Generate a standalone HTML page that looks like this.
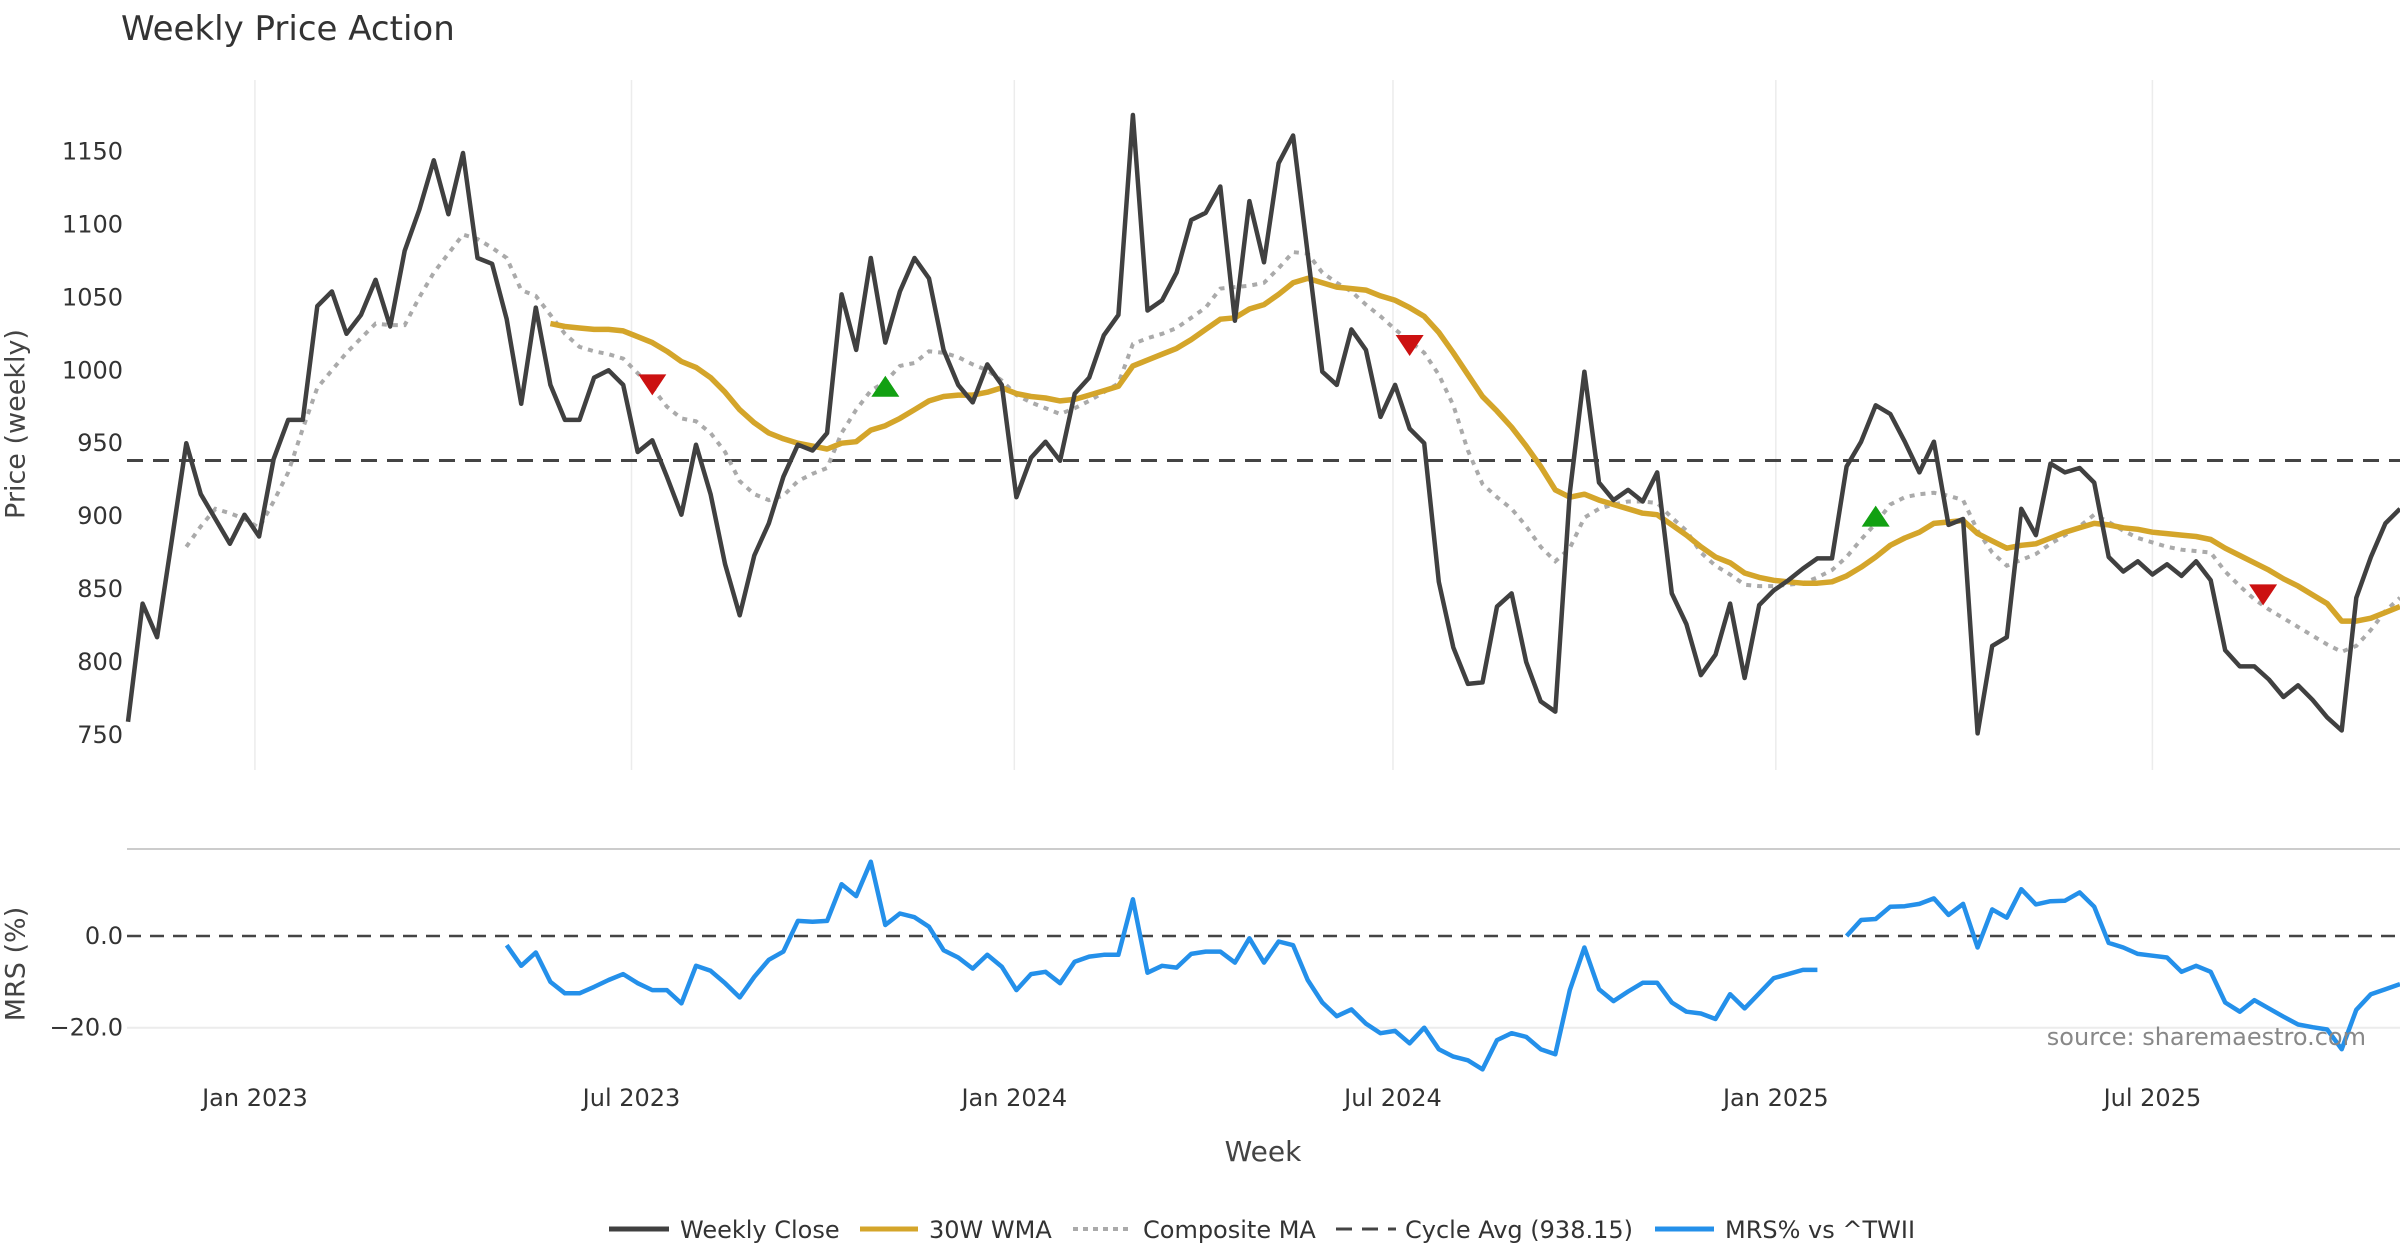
<!DOCTYPE html>
<html><head><meta charset="utf-8"><style>
html,body{margin:0;padding:0;background:#fff;}
svg{display:block;font-family:"DejaVu Sans","Liberation Sans",sans-serif;}
</style></head><body>
<svg id="chart" width="2400" height="1260" viewBox="0 0 2400 1260" xmlns="http://www.w3.org/2000/svg">
<text x="121" y="40" font-size="34" fill="#333">Weekly Price Action</text>
<g id="grid"></g><g id="series"></g><g id="axes"></g>
<text x="17" y="424" font-size="27" fill="#444" text-anchor="middle" transform="rotate(-90 17 424)" dominant-baseline="middle">Price (weekly)</text>
<text x="17" y="964" font-size="27" fill="#444" text-anchor="middle" transform="rotate(-90 17 964)" dominant-baseline="middle">MRS (%)</text>
<text x="1263" y="1161" font-size="28" fill="#444" text-anchor="middle">Week</text>
<text x="2366" y="1045" font-size="24" fill="#888" text-anchor="end">source: sharemaestro.com</text>
<g font-size="24" fill="#333">
<g><line x1="609" y1="1229" x2="669" y2="1229" stroke="#404040" stroke-width="5"/><text x="680" y="1238">Weekly Close</text></g>
<g><line x1="860" y1="1229" x2="918" y2="1229" stroke="#d4a52a" stroke-width="5"/><text x="929" y="1238">30W WMA</text></g>
<g><line x1="1073" y1="1229" x2="1133" y2="1229" stroke="#aaa" stroke-width="4" stroke-dasharray="5 5"/><text x="1143" y="1238">Composite MA</text></g>
<g><line x1="1336" y1="1229" x2="1396" y2="1229" stroke="#444" stroke-width="3" stroke-dasharray="16 10"/><text x="1405" y="1238">Cycle Avg (938.15)</text></g>
<g><line x1="1655" y1="1229" x2="1714" y2="1229" stroke="#2490ea" stroke-width="5"/><text x="1725" y="1238">MRS% vs ^TWII</text></g>
</g>
</svg>
<script>
const closeVals=[759,840,817,883,950,915,898,881,901,886,939,966,966,1044,1054,1025,1038,1062,1030,1082,1110,1144,1107,1149,1077,1073,1035,977,1043,990,966,966,995,1000,990,944,952,927,901,949,915,867,832,873,895,927,949,945,957,1052,1014,1077,1019,1054,1077,1063,1014,990,978,1004,990,913,940,951,938,984,995,1024,1038,1175,1041,1048,1067,1103,1108,1126,1034,1116,1074,1142,1161,1080,999,990,1028,1014,968,990,960,950,855,810,785,786,838,847,800,773,766,916,999,923,911,918,910,930,847,826,791,805,840,789,839,849,856,864,871,871,934,951,976,970,951,930,951,894,898,751,811,817,905,887,936,930,933,923,872,862,869,860,867,859,869,856,808,797,797,788,776,784,774,762,753,844,872,895,905];
const wmaVals=[null,null,null,null,null,null,null,null,null,null,null,null,null,null,null,null,null,null,null,null,null,null,null,null,null,null,null,null,null,1032,1030,1029,1028,1028,1027,1023,1019,1013,1006,1002,995,985,973,964,957,953,950,948,946,950,951,959,962,967,973,979,982,983,983,985,988,984,982,981,979,980,983,986,989,1003,1007,1011,1015,1021,1028,1035,1036,1042,1045,1052,1060,1063,1060,1057,1056,1055,1051,1048,1043,1037,1026,1012,997,982,972,961,948,934,918,913,915,911,908,905,902,901,894,887,879,872,868,861,858,856,855,854,854,855,859,865,872,880,885,889,895,896,897,888,883,878,880,881,885,889,892,895,894,892,891,889,888,887,886,884,878,873,868,863,857,852,846,840,828,828,830,834,838];
const compVals=[null,null,null,null,879,893,905,902,898,892,910,930,960,988,1000,1012,1022,1032,1031,1031,1050,1067,1080,1093,1090,1084,1077,1055,1051,1038,1025,1016,1013,1011,1008,998,988,975,967,965,957,944,924,915,911,914,924,929,933,957,973,986,992,1003,1005,1013,1012,1009,1004,1000,993,983,978,974,970,974,979,985,991,1018,1022,1025,1029,1036,1043,1056,1057,1058,1060,1070,1081,1080,1067,1060,1054,1045,1037,1028,1020,1012,997,976,945,922,913,905,893,879,869,878,899,905,908,910,910,909,899,890,875,866,860,853,852,852,853,854,858,863,872,884,895,908,913,915,916,914,911,890,875,866,870,874,881,887,893,901,896,890,885,882,879,877,876,875,862,852,843,836,830,824,818,812,807,811,822,835,844];
const mrsVals=[null,null,null,null,null,null,null,null,null,null,null,null,null,null,null,null,null,null,null,null,null,null,null,null,null,null,-2.0,-6.5,-3.6,-10.0,-12.5,-12.5,-11.1,-9.6,-8.3,-10.3,-11.8,-11.8,-14.7,-6.5,-7.6,-10.3,-13.4,-8.9,-5.2,-3.4,3.3,3.1,3.3,11.3,8.7,16.2,2.4,4.9,4.1,2.0,-3.1,-4.7,-7.1,-4.1,-6.7,-11.8,-8.3,-7.8,-10.3,-5.6,-4.5,-4.1,-4.1,8.0,-8.0,-6.5,-6.9,-3.9,-3.4,-3.4,-5.8,-0.5,-5.8,-1.2,-2.0,-9.6,-14.5,-17.5,-16.0,-19.1,-21.2,-20.7,-23.4,-20.0,-24.7,-26.3,-27.1,-29.1,-22.7,-21.2,-22.0,-24.7,-25.8,-11.8,-2.5,-11.6,-14.2,-12.1,-10.2,-10.2,-14.5,-16.5,-16.9,-18.1,-12.7,-15.8,-12.5,-9.2,-8.3,-7.4,-7.4,null,0.0,3.5,3.7,6.4,6.5,7.0,8.2,4.6,7.0,-2.5,5.8,4.0,10.2,6.9,7.6,7.7,9.5,6.4,-1.5,-2.5,-3.9,-4.3,-4.7,-7.8,-6.5,-7.8,-14.5,-16.5,-14.0,-15.8,-17.6,-19.3,-19.9,-20.4,-24.7,-16.1,-12.7,-11.6,-10.5];
const sellIdx=[36,88,146.6];
const sellVals=[991,1018,847];
const buyIdx=[52,120];
const buyVals=[988,899];
const cycleAvg=938.15;
const priceTicks=[750,800,850,900,950,1000,1050,1100,1150];
const mrsTicks=[0,-20];
const mrsTickLabels=["0.0","\u221220.0"];
const xTickLabels=["Jan 2023","Jul 2023","Jan 2024","Jul 2024","Jan 2025","Jul 2025"];
const xTickDates=["2023-01-01","2023-07-01","2024-01-01","2024-07-01","2025-01-01","2025-07-01"];
const startDate="2022-11-01";

const NS="http://www.w3.org/2000/svg";
const X0=128, XR=2400;
const DX=(XR-X0)/(closeVals.length-1);
const xI=i=>X0+i*DX;
const yP=v=>151.5+(1150-v)*1.4585;
const yM=v=>936-v*4.585;
const dateIdx=d=>(new Date(d)-new Date(startDate))/(7*86400000);
function mk(tag,attrs,parent){const e=document.createElementNS(NS,tag);for(const k in attrs)e.setAttribute(k,attrs[k]);parent.appendChild(e);return e;}
const grid=document.getElementById('grid'),ser=document.getElementById('series'),ax=document.getElementById('axes');

xTickDates.forEach((d,k)=>{
  const x=xI(dateIdx(d));
  const g=mk('line',{x1:x,y1:80,x2:x,y2:770,stroke:'#ececec','stroke-width':1.5},grid);
  
  
  const t=mk('text',{x:x,y:1106,'font-size':24,fill:'#333','text-anchor':'middle'},ax);
  t.textContent=xTickLabels[k];
  
  
});
priceTicks.forEach(v=>{
  const t=mk('text',{x:123,y:yP(v)+8,'font-size':24,fill:'#333','text-anchor':'end'},ax);
  t.textContent=v;
  
  
});
const sep=mk('line',{x1:127,y1:849,x2:XR,y2:849,stroke:'#ccc','stroke-width':2},grid);


mrsTicks.forEach((v,k)=>{
  if(v!==0){const l=mk('line',{x1:127,y1:yM(v),x2:XR,y2:yM(v),stroke:'#ececec','stroke-width':2},grid);
  
  }
  const t=mk('text',{x:123,y:yM(v)+8,'font-size':24,fill:'#333','text-anchor':'end'},ax);
  t.textContent=mrsTickLabels[k];
  
  
});
function pathOf(arr,yf){let d='',pen=false;arr.forEach((v,i)=>{if(v===null||v===undefined){pen=false;return;}d+=(pen?'L':'M')+xI(i).toFixed(1)+' '+yf(v).toFixed(1)+' ';pen=true;});return d;}
const cyc=mk('line',{x1:127,y1:yP(cycleAvg),x2:XR,y2:yP(cycleAvg),stroke:'#444','stroke-width':3,'stroke-dasharray':'16 10'},ser);


const zl=mk('line',{x1:127,y1:yM(0),x2:XR,y2:yM(0),stroke:'#444','stroke-width':2.5,'stroke-dasharray':'14 9'},ser);


const cp=mk('path',{d:pathOf(compVals,yP),fill:'none',stroke:'#aaa','stroke-width':4,'stroke-dasharray':'5 6'},ser);


const wp=mk('path',{d:pathOf(wmaVals,yP),fill:'none',stroke:'#d4a52a','stroke-width':5.5,'stroke-linejoin':'round'},ser);


const clp=mk('path',{d:pathOf(closeVals,yP),fill:'none',stroke:'#404040','stroke-width':4.5,'stroke-linejoin':'round'},ser);


const mp=mk('path',{d:pathOf(mrsVals,yM),fill:'none',stroke:'#2490ea','stroke-width':4.5,'stroke-linejoin':'round'},ser);


sellIdx.forEach((ix,k)=>{const x=xI(ix),y=yP(sellVals[k]);
  const p=mk('path',{d:`M${x-14} ${y-9} L${x+14} ${y-9} L${x} ${y+12} Z`,fill:'#cc1111'},ser);
  
  });
buyIdx.forEach((ix,k)=>{const x=xI(ix),y=yP(buyVals[k]);
  const p=mk('path',{d:`M${x-14} ${y+9} L${x+14} ${y+9} L${x} ${y-12} Z`,fill:'#12a012'},ser);
  
  });
</script>
</body></html>
